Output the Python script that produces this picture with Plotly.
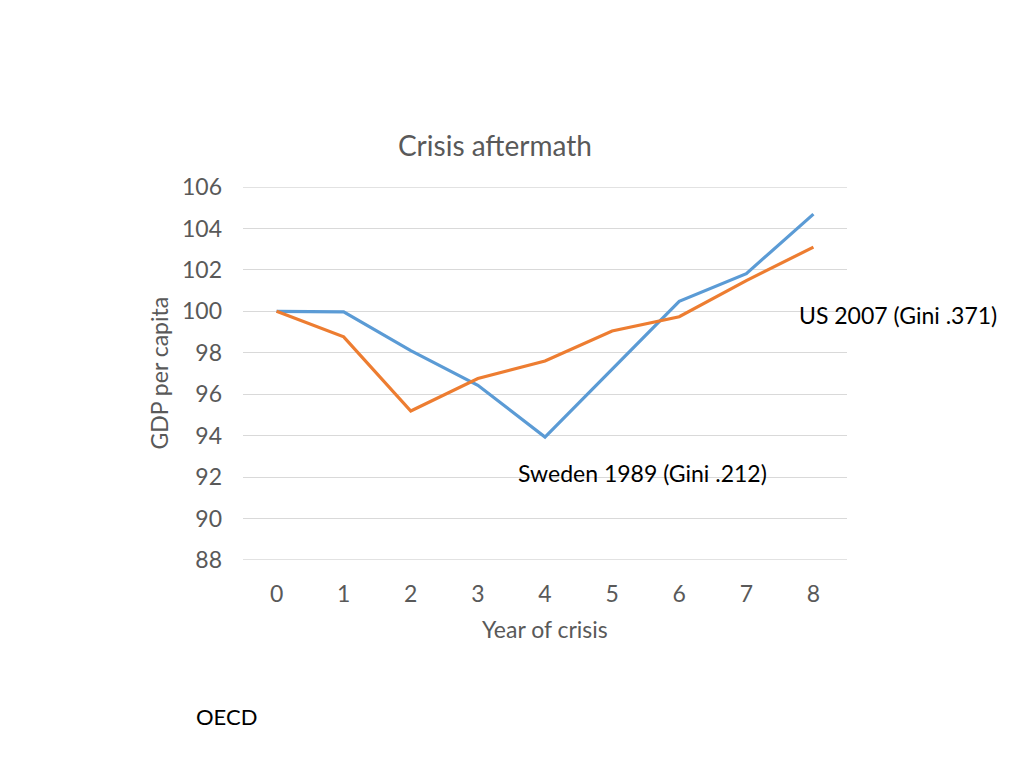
import plotly.graph_objects as go

years = [0, 1, 2, 3, 4, 5, 6, 7, 8]
sweden = [100.0, 99.97, 98.1, 96.43, 93.93, 97.2, 100.48, 101.82, 104.69]
us = [100.0, 98.77, 95.19, 96.76, 97.6, 99.05, 99.74, 101.48, 103.1]
y_ticks = [88, 90, 92, 94, 96, 98, 100, 102, 104, 106]

FONT = "Lato"
GREY = "#595959"
GRID = "#d9d9d9"

OFF = 8  # page offset
L, R, T, B = 243 - OFF, 847 - OFF, 187 - OFF, 560 - OFF
W, H = 1024 - OFF * 2, 768 - OFF * 2

def px(x):
    return (x - OFF - L) / (R - L)

def py(y):
    return (B - (y - OFF)) / (B - T)

fig = go.Figure()
fig.add_trace(go.Scatter(x=years, y=sweden, mode="lines",
                         line=dict(color="#5b9bd5", width=3.2), name="Sweden 1989"))
fig.add_trace(go.Scatter(x=years, y=us, mode="lines",
                         line=dict(color="#ed7d31", width=3.2), name="US 2007"))

fig.update_layout(
    width=W, height=H,
    margin=dict(l=L, r=W - R, t=T, b=H - B),
    paper_bgcolor="white", plot_bgcolor="white",
    showlegend=False,
    font=dict(family=FONT, color=GREY, size=23),
    xaxis=dict(type="category", range=[-0.5, 8.5], showgrid=False, zeroline=False,
               showline=False, ticks="", tickfont=dict(size=23, color=GREY),
               ticklabelstandoff=18),
    yaxis=dict(range=[y_ticks[0], y_ticks[-1]], tickvals=y_ticks, showgrid=True,
               gridcolor=GRID, gridwidth=1.3, zeroline=False, showline=False, ticks="",
               tickfont=dict(size=23, color=GREY), ticklabelstandoff=20),
)

# edge gridlines (Plotly omits grid lines on the range boundaries)
for v in (y_ticks[0], y_ticks[-1]):
    fig.add_shape(type="line", xref="paper", yref="y", x0=0, x1=1, y0=v, y1=v,
                  line=dict(color=GRID, width=1.3), layer="below")

annotations = [
    dict(text="Crisis aftermath", x=px(495), y=py(145), xanchor="center", yanchor="middle",
         font=dict(size=28, color=GREY)),
    dict(text="GDP per capita", x=px(158), y=0.5, textangle=-90, xanchor="center",
         yanchor="middle", font=dict(size=23, color=GREY)),
    dict(text="Year of crisis", x=0.5, y=py(629), xanchor="center", yanchor="middle",
         font=dict(size=23, color=GREY)),
    dict(text="US 2007 (Gini .371)", x=px(797), y=py(315), xanchor="left", yanchor="middle",
         font=dict(size=23, color="black")),
    dict(text="Sweden 1989 (Gini .212)", x=px(516), y=py(473), xanchor="left",
         yanchor="middle", font=dict(size=23, color="black")),
    dict(text="OECD", x=px(194), y=py(716), xanchor="left", yanchor="middle",
         font=dict(size=22, color="black")),
]
for a in annotations:
    a.update(xref="paper", yref="paper", showarrow=False)
fig.update_layout(annotations=annotations)

fig.write_html("out.html")
